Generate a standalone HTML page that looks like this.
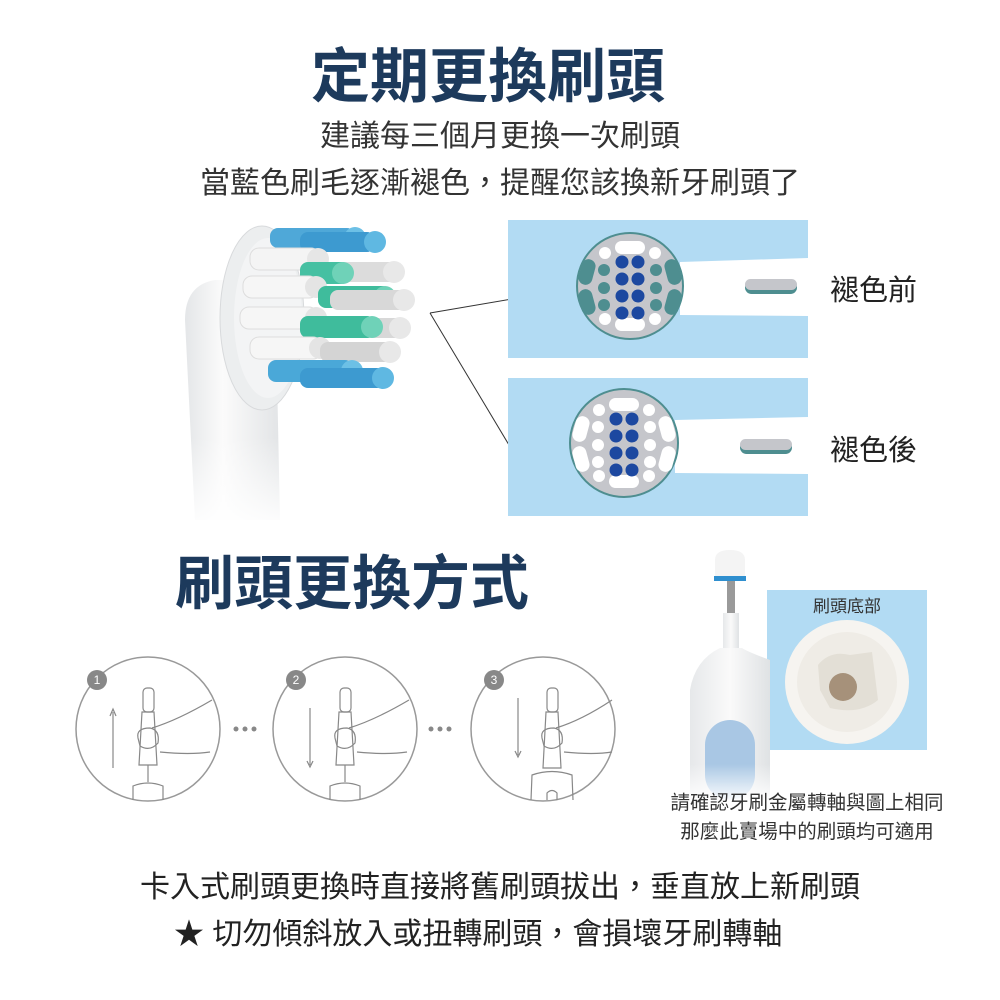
<!DOCTYPE html>
<html><head><meta charset="utf-8"><style>
html,body{margin:0;padding:0;background:#fff;}
svg{display:block;}
text{font-family:"Liberation Sans","Noto Sans CJK TC",sans-serif;}
</style></head><body>
<svg width="1000" height="1000" viewBox="0 0 1000 1000" xmlns="http://www.w3.org/2000/svg">
<defs>
<linearGradient id="neck" x1="0" y1="0" x2="1" y2="0">
<stop offset="0" stop-color="#e4e6e8"/><stop offset="0.4" stop-color="#fbfbfb"/><stop offset="1" stop-color="#e2e4e6"/></linearGradient>
<linearGradient id="fade" x1="0" y1="0" x2="0" y2="1">
<stop offset="0.7" stop-color="#fff" stop-opacity="0"/><stop offset="1" stop-color="#fff" stop-opacity="1"/></linearGradient>
<linearGradient id="body" x1="0" y1="0" x2="1" y2="0">
<stop offset="0" stop-color="#e6e8ea"/><stop offset="0.5" stop-color="#fafafa"/><stop offset="1" stop-color="#dfe2e4"/></linearGradient>
<linearGradient id="bfade" x1="0" y1="0" x2="0" y2="1">
<stop offset="0.75" stop-color="#fff" stop-opacity="0"/><stop offset="1" stop-color="#fff" stop-opacity="1"/></linearGradient>
</defs>

<!-- Titles -->
<text x="488" y="97" font-size="59" font-weight="bold" fill="#1d3a5c" text-anchor="middle">定期更換刷頭</text>
<text x="500" y="146" font-size="30" fill="#333" text-anchor="middle">建議每三個月更換一次刷頭</text>
<text x="500" y="193" font-size="30" fill="#333" text-anchor="middle">當藍色刷毛逐漸褪色，提醒您該換新牙刷頭了</text>

<!-- Brush head -->
<path d="M185 320 Q185 285 215 280 L275 280 L280 520 L195 520 Z" fill="url(#neck)"/>
<ellipse cx="262" cy="318" rx="42" ry="92" fill="#eceeef" stroke="#d8dadc"/>
<ellipse cx="268" cy="318" rx="34" ry="80" fill="#f3f4f5"/>
<g>
<rect x="270" y="228" width="85" height="20" rx="8" fill="#4fa8d8"/><circle cx="355" cy="238" r="11" fill="#6cc0e6"/>
<rect x="300" y="232" width="75" height="20" rx="8" fill="#3d9ad0"/><circle cx="375" cy="242" r="11" fill="#5fb8e2"/>
<rect x="250" y="248" width="70" height="22" rx="9" fill="#f4f4f4" stroke="#ddd"/><circle cx="318" cy="259" r="11" fill="#e6e6e6"/>
<rect x="320" y="262" width="80" height="20" rx="8" fill="#dcdcdc"/><circle cx="394" cy="272" r="11" fill="#e8e8e8"/>
<rect x="300" y="262" width="50" height="22" rx="8" fill="#46c0a2"/><circle cx="343" cy="273" r="11" fill="#6fd2b8"/>
<rect x="243" y="276" width="75" height="22" rx="9" fill="#f6f6f6" stroke="#ddd"/><circle cx="316" cy="287" r="11" fill="#e4e4e4"/>
<rect x="318" y="286" width="72" height="22" rx="8" fill="#3fbc9c"/><circle cx="385" cy="297" r="11" fill="#6fd2b8"/>
<rect x="330" y="290" width="80" height="20" rx="8" fill="#d8d8d8"/><circle cx="404" cy="300" r="11" fill="#e8e8e8"/>
<rect x="240" y="307" width="78" height="22" rx="9" fill="#f6f6f6" stroke="#ddd"/><circle cx="316" cy="318" r="11" fill="#e4e4e4"/>
<rect x="320" y="318" width="85" height="20" rx="8" fill="#d8d8d8"/><circle cx="400" cy="328" r="11" fill="#e8e8e8"/>
<rect x="300" y="316" width="75" height="22" rx="8" fill="#3fbc9c"/><circle cx="372" cy="327" r="11" fill="#6fd2b8"/>
<rect x="250" y="337" width="72" height="22" rx="9" fill="#f6f6f6" stroke="#ddd"/><circle cx="320" cy="348" r="11" fill="#e4e4e4"/>
<rect x="320" y="342" width="72" height="20" rx="8" fill="#d4d4d4"/><circle cx="390" cy="352" r="11" fill="#e8e8e8"/>
<rect x="268" y="360" width="85" height="22" rx="8" fill="#4aa8d8"/><circle cx="352" cy="371" r="11" fill="#6cc0e6"/>
<rect x="300" y="368" width="85" height="20" rx="8" fill="#3d9ad0"/><circle cx="383" cy="378" r="11" fill="#5fb8e2"/>
</g>
<rect x="170" y="220" width="260" height="310" fill="url(#fade)"/>

<!-- Connector lines -->
<line x1="430" y1="313" x2="518" y2="298" stroke="#333" stroke-width="1"/>
<line x1="430" y1="313" x2="518" y2="460" stroke="#333" stroke-width="1"/>

<!-- Panels -->
<rect x="508" y="220" width="300" height="138" fill="#b2dbf3"/>
<polygon points="680,262 808,258 808,316 680,315" fill="#fff"/>
<rect x="508" y="378" width="300" height="138" fill="#b2dbf3"/>
<polygon points="675,420 808,417 808,474 675,473" fill="#fff"/>

<!-- before circle -->
<g transform="translate(630,286)">
<circle r="53" fill="#c5c6cb" stroke="#4e8e90" stroke-width="2"/>
<rect x="-15" y="-45" width="30" height="13" rx="6.5" fill="#fff"/>
<rect x="-15" y="32" width="30" height="13" rx="6.5" fill="#fff"/>
<circle cx="-25" cy="-33" r="6" fill="#fff"/><circle cx="25" cy="-33" r="6" fill="#fff"/>
<circle cx="-25" cy="33" r="6" fill="#fff"/><circle cx="25" cy="33" r="6" fill="#fff"/>
<rect x="-50" y="-27" width="14" height="26" rx="7" fill="#4e8e90" transform="rotate(15 -43 -14)"/>
<rect x="-50" y="3" width="14" height="26" rx="7" fill="#4e8e90" transform="rotate(-15 -43 16)"/>
<rect x="36" y="-27" width="14" height="26" rx="7" fill="#4e8e90" transform="rotate(-15 43 -14)"/>
<rect x="36" y="3" width="14" height="26" rx="7" fill="#4e8e90" transform="rotate(15 43 16)"/>
<circle cx="-26" cy="-16" r="6" fill="#4e8e90"/><circle cx="-26" cy="2" r="6" fill="#4e8e90"/><circle cx="-26" cy="19" r="6" fill="#4e8e90"/>
<circle cx="26" cy="-16" r="6" fill="#4e8e90"/><circle cx="26" cy="2" r="6" fill="#4e8e90"/><circle cx="26" cy="19" r="6" fill="#4e8e90"/>
<g fill="#1c48a0"><circle cx="-8" cy="-24" r="6.5"/><circle cx="8" cy="-24" r="6.5"/><circle cx="-8" cy="-7" r="6.5"/><circle cx="8" cy="-7" r="6.5"/><circle cx="-8" cy="10" r="6.5"/><circle cx="8" cy="10" r="6.5"/><circle cx="-8" cy="27" r="6.5"/><circle cx="8" cy="27" r="6.5"/></g>
</g>
<rect x="745" y="281" width="52" height="13" rx="6.5" fill="#4e8e90"/><rect x="745" y="279" width="52" height="11" rx="5.5" fill="#c5c6cb"/>

<!-- after circle -->
<g transform="translate(624,443)">
<circle r="54" fill="#c5c6cb" stroke="#4e8e90" stroke-width="2"/>
<rect x="-15" y="-45" width="30" height="13" rx="6.5" fill="#fff"/>
<rect x="-15" y="32" width="30" height="13" rx="6.5" fill="#fff"/>
<circle cx="-25" cy="-33" r="6" fill="#fff"/><circle cx="25" cy="-33" r="6" fill="#fff"/>
<circle cx="-25" cy="33" r="6" fill="#fff"/><circle cx="25" cy="33" r="6" fill="#fff"/>
<rect x="-50" y="-27" width="14" height="26" rx="7" fill="#fff" transform="rotate(15 -43 -14)"/>
<rect x="-50" y="3" width="14" height="26" rx="7" fill="#fff" transform="rotate(-15 -43 16)"/>
<rect x="36" y="-27" width="14" height="26" rx="7" fill="#fff" transform="rotate(-15 43 -14)"/>
<rect x="36" y="3" width="14" height="26" rx="7" fill="#fff" transform="rotate(15 43 16)"/>
<circle cx="-26" cy="-16" r="6" fill="#fff"/><circle cx="-26" cy="2" r="6" fill="#fff"/><circle cx="-26" cy="19" r="6" fill="#fff"/>
<circle cx="26" cy="-16" r="6" fill="#fff"/><circle cx="26" cy="2" r="6" fill="#fff"/><circle cx="26" cy="19" r="6" fill="#fff"/>
<g fill="#1c48a0"><circle cx="-8" cy="-24" r="6.5"/><circle cx="8" cy="-24" r="6.5"/><circle cx="-8" cy="-7" r="6.5"/><circle cx="8" cy="-7" r="6.5"/><circle cx="-8" cy="10" r="6.5"/><circle cx="8" cy="10" r="6.5"/><circle cx="-8" cy="27" r="6.5"/><circle cx="8" cy="27" r="6.5"/></g>
</g>
<rect x="740" y="441" width="52" height="13" rx="6.5" fill="#4e8e90"/><rect x="740" y="439" width="52" height="11" rx="5.5" fill="#c5c6cb"/>

<text x="830" y="300" font-size="29" fill="#222">褪色前</text>
<text x="830" y="460" font-size="29" fill="#222">褪色後</text>

<!-- Section 2 title -->
<text x="175" y="604" font-size="59" font-weight="bold" fill="#1d3a5c">刷頭更換方式</text>

<!-- Steps -->
<g fill="none" stroke="#999" stroke-width="1.5">
<circle cx="148" cy="729" r="72"/><circle cx="345" cy="729" r="72"/><circle cx="543" cy="729" r="72"/>
</g>
<g fill="#888">
<circle cx="97" cy="680" r="10"/><circle cx="296" cy="680" r="10"/><circle cx="494" cy="680" r="10"/>
<circle cx="236" cy="729" r="2.5"/><circle cx="245" cy="729" r="2.5"/><circle cx="254" cy="729" r="2.5"/>
<circle cx="431" cy="729" r="2.5"/><circle cx="440" cy="729" r="2.5"/><circle cx="449" cy="729" r="2.5"/>
</g>
<g font-size="12" fill="#fff" text-anchor="middle"><text x="97" y="684">1</text><text x="296" y="684">2</text><text x="494" y="684">3</text></g>
<g fill="none" stroke="#888" stroke-width="1.2">
<line x1="113" y1="768" x2="113" y2="712"/><path d="M110 716 L113 709 L116 716"/>
<rect x="143" y="688" width="11" height="24" rx="4"/><path d="M142 712 L154 712 L157 765 L139 765 Z"/>
<line x1="148" y1="765" x2="148" y2="782"/><path d="M133 800 L133 786 Q148 780 163 786 L163 800"/>
<path d="M152 728 Q178 720 212 700 M160 752 Q190 755 210 752"/><path d="M138 738 Q136 728 150 728 Q160 730 158 743 Q150 752 140 746 Z"/>
<line x1="310" y1="708" x2="310" y2="765"/><path d="M307 761 L310 767 L313 761"/>
<rect x="340" y="688" width="11" height="24" rx="4"/><path d="M339 712 L351 712 L354 765 L336 765 Z"/>
<line x1="345" y1="765" x2="345" y2="782"/><path d="M330 800 L330 786 Q345 780 360 786 L360 800"/>
<path d="M349 728 Q375 720 409 700 M357 752 Q387 755 407 752"/><path d="M335 738 Q333 728 347 728 Q357 730 355 743 Q347 752 337 746 Z"/>
<line x1="518" y1="698" x2="518" y2="755"/><path d="M515 751 L518 757 L521 751"/>
<rect x="547" y="688" width="11" height="24" rx="4"/><path d="M546 712 L558 712 L561 768 L543 768 Z"/>
<path d="M531 800 L532 775 Q552 768 572 775 L573 800"/><path d="M547 800 L547 793 Q552 788 557 793 L557 800"/>
<path d="M556 728 Q582 720 612 700 M564 752 Q594 755 612 752"/><path d="M542 738 Q540 728 554 728 Q564 730 562 743 Q554 752 544 746 Z"/>
</g>

<!-- Right toothbrush -->
<rect x="767" y="590" width="160" height="160" fill="#b2dbf3"/>
<polygon points="767,660 752,678 767,692" fill="#b2dbf3"/>
<circle cx="847" cy="682" r="62" fill="#f6f4f0"/>
<circle cx="847" cy="682" r="50" fill="#efece6"/>
<path d="M818 665 Q830 650 850 655 L872 652 L878 700 Q860 715 830 708 L820 690 Z" fill="#e3dfd6"/>
<circle cx="843" cy="687" r="14" fill="#a6917a"/>
<text x="847" y="612" font-size="17" fill="#333" text-anchor="middle">刷頭底部</text>
<path d="M715 560 Q715 550 730 550 Q745 550 745 560 L745 578 L715 578 Z" fill="#f4f4f4"/>
<rect x="714" y="576" width="32" height="5" fill="#2f8fcf"/>
<rect x="727" y="581" width="8" height="32" fill="#9a9a9a"/>
<rect x="723" y="613" width="16" height="35" fill="url(#body)"/>
<path d="M720 648 Q695 660 690 690 L690 800 L770 800 L770 660 Q748 652 742 648 Z" fill="url(#body)"/>
<rect x="705" y="720" width="50" height="80" rx="25" fill="#a9c7e4"/>
<rect x="690" y="650" width="82" height="152" fill="url(#bfade)"/>

<text x="807" y="809" font-size="19.5" fill="#333" text-anchor="middle">請確認牙刷金屬轉軸與圖上相同</text>
<text x="807" y="838" font-size="19.5" fill="#333" text-anchor="middle">那麼此賣場中的刷頭均可適用</text>

<!-- Bottom -->
<text x="500" y="897" font-size="30" fill="#222" text-anchor="middle">卡入式刷頭更換時直接將舊刷頭拔出，垂直放上新刷頭</text>
<text x="174" y="944" font-size="30" fill="#222">★ 切勿傾斜放入或扭轉刷頭，會損壞牙刷轉軸</text>
</svg>
</body></html>
